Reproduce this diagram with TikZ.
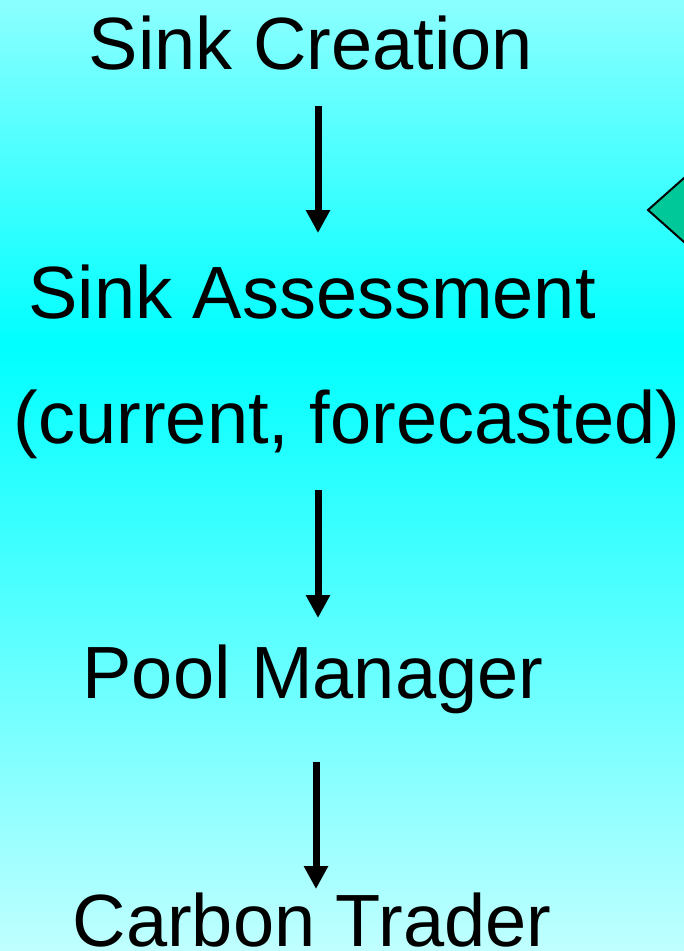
\documentclass[tikz,border=0pt]{standalone}
\usepackage{fontspec}
\setmainfont{Liberation Sans}
\usetikzlibrary{arrows.meta}
\definecolor{bgtop}{RGB}{140,255,255}
\definecolor{bgmid}{RGB}{0,255,255}
\definecolor{bgbot}{RGB}{192,255,255}
\definecolor{dmd}{RGB}{0,200,152}
\tikzset{
  lbl/.style={anchor=base, inner sep=0pt, font=\fontsize{74}{88}\selectfont},
  flow/.style={line width=7pt, -{Triangle[width=23pt,length=23pt]}, black}
}
\begin{document}
\begin{tikzpicture}[x=1pt,y=-1pt]
\useasboundingbox (0,0) rectangle (684,951);
\shade[top color=bgtop, bottom color=bgmid] (0,0) rectangle (684,345);
\shade[top color=bgmid, bottom color=bgbot] (0,345) rectangle (684,951);
\begin{scope}
\clip (0,0) rectangle (684,951);
\draw[line width=2pt, fill=dmd, line join=miter] (648,210) -- (700,163.8) -- (752,210) -- (700,256.2) -- cycle;
\end{scope}
\node[lbl] (sc) at (311,69) {Sink Creation};
\node[lbl] (sa) at (312,318) {Sink Assessment};
\node[lbl] (cf) at (347,443) {(current, forecasted)};
\node[lbl] (pm) at (313,698) {Pool Manager};
\node[lbl] (ct) at (312,946) {Carbon Trader};
\coordinate (a1s) at (318,106);
\coordinate (a1e) at (318,233);
\coordinate (a2s) at (318,490);
\coordinate (a2e) at (318,618);
\coordinate (a3s) at (316,762);
\coordinate (a3e) at (316,889);
\draw[flow] (a1s) -- (a1e);
\draw[flow] (a2s) -- (a2e);
\draw[flow] (a3s) -- (a3e);
\end{tikzpicture}
\end{document}
